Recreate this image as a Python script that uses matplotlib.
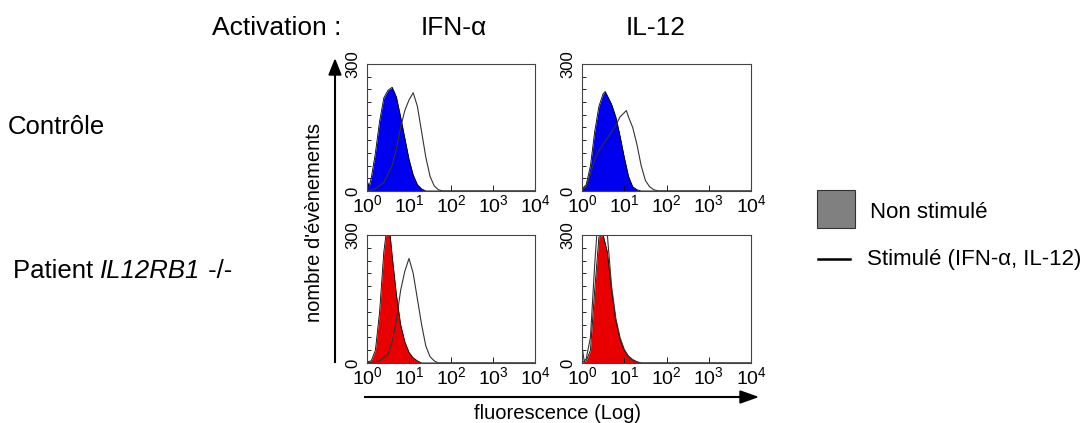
import numpy as np
import matplotlib.pyplot as plt
from matplotlib.patches import Rectangle
from matplotlib.lines import Line2D

plt.rcParams["font.family"] = ["Liberation Sans", "DejaVu Sans"]
plt.rcParams["mathtext.fontset"] = "custom"
plt.rcParams["mathtext.rm"] = "Liberation Sans"
plt.rcParams["mathtext.it"] = "Liberation Sans:italic"

# DATA (log10 fluorescence, cell counts)
ctrl_ifn_fill_x = [0.0, 0.05, 0.1, 0.2, 0.3, 0.4, 0.5, 0.6, 0.7, 0.8, 0.9, 1.0, 1.1, 1.2, 1.3, 1.4, 4.0]
ctrl_ifn_fill_y = [25, 10, 30, 90, 165, 220, 238, 245, 222, 175, 125, 75, 38, 15, 5, 0, 0]
ctrl_ifn_line_x = [0.0, 0.2, 0.4, 0.6, 0.7, 0.8, 0.9, 1.0, 1.1, 1.2, 1.3, 1.4, 1.5, 1.6, 1.7, 1.8, 4.0]
ctrl_ifn_line_y = [0, 5, 20, 60, 100, 150, 190, 215, 232, 200, 140, 80, 35, 12, 3, 0, 0]

ctrl_il12_fill_x = [0.0, 0.1, 0.2, 0.3, 0.4, 0.5, 0.55, 0.6, 0.7, 0.8, 0.9, 1.0, 1.1, 1.2, 1.3, 1.4, 4.0]
ctrl_il12_fill_y = [5, 15, 60, 140, 200, 230, 235, 225, 205, 175, 130, 80, 35, 10, 3, 0, 0]
ctrl_il12_line_x = [0.0, 0.1, 0.2, 0.3, 0.4, 0.5, 0.6, 0.7, 0.8, 0.9, 1.0, 1.05, 1.1, 1.2, 1.3, 1.4, 1.5, 1.6, 1.7, 1.8, 4.0]
ctrl_il12_line_y = [3, 10, 40, 75, 95, 110, 125, 140, 155, 175, 185, 190, 175, 150, 110, 60, 25, 10, 3, 0, 0]

pat_ifn_fill_x = [0.0, 0.1, 0.2, 0.3, 0.4, 0.45, 0.55, 0.6, 0.7, 0.8, 0.9, 1.0, 1.1, 1.2, 1.3, 4.0]
pat_ifn_fill_y = [3, 5, 30, 120, 260, 300, 300, 250, 160, 90, 50, 25, 12, 5, 0, 0]
pat_ifn_line_x = [0.0, 0.3, 0.5, 0.6, 0.7, 0.8, 0.9, 1.0, 1.1, 1.2, 1.3, 1.4, 1.5, 1.6, 1.7, 4.0]
pat_ifn_line_y = [0, 5, 20, 50, 100, 170, 215, 245, 210, 150, 90, 40, 15, 5, 0, 0]

pat_il12_fill_x = [0.0, 0.1, 0.2, 0.3, 0.4, 0.5, 0.6, 0.7, 0.8, 0.9, 1.0, 1.1, 1.2, 1.3, 1.4, 4.0]
pat_il12_fill_y = [2, 5, 30, 170, 295, 300, 260, 170, 100, 55, 30, 15, 7, 2, 0, 0]
pat_il12_line_x = [0.0, 0.05, 0.1, 0.2, 0.3, 0.35, 0.6, 0.7, 0.8, 0.9, 1.0, 1.1, 1.2, 1.3, 1.4, 4.0]
pat_il12_line_y = [40, 5, 10, 60, 230, 300, 300, 180, 105, 60, 32, 16, 8, 3, 0, 0]

row_labels = ["Contrôle", "Patient"]
col_labels = ["IFN-\u03b1", "IL-12"]
decades = [0, 1, 2, 3, 4]

panels = [
    (ctrl_ifn_fill_x, ctrl_ifn_fill_y, ctrl_ifn_line_x, ctrl_ifn_line_y, "#0000f0"),
    (ctrl_il12_fill_x, ctrl_il12_fill_y, ctrl_il12_line_x, ctrl_il12_line_y, "#0000f0"),
    (pat_ifn_fill_x, pat_ifn_fill_y, pat_ifn_line_x, pat_ifn_line_y, "#e80000"),
    (pat_il12_fill_x, pat_il12_fill_y, pat_il12_line_x, pat_il12_line_y, "#e80000"),
]

W, H = 1087, 423
fig = plt.figure(figsize=(W / 100, H / 100), dpi=100)

def px_axes(x0, y0, x1, y1):
    return fig.add_axes([x0 / W, 1 - y1 / H, (x1 - x0) / W, (y1 - y0) / H])

boxes = [(367, 64, 535, 191), (582, 64, 751, 191), (367, 235, 535, 363), (582, 235, 751, 363)]

for (fx, fy, lx, ly, col), box in zip(panels, boxes):
    ax = px_axes(*box)
    fxx = 10 ** np.array(fx)
    lxx = 10 ** np.array(lx)
    ax.fill_between(fxx, 0, fy, color=col, lw=0)
    ax.plot(fxx, fy, color="black", lw=0.6)
    ax.plot(lxx, ly, color="#333333", lw=0.8)
    ax.set_xscale("log")
    ax.set_xlim(1, 1e4)
    ax.set_ylim(0, 300)
    ax.set_xticks([10 ** d for d in decades])
    ax.set_xticklabels([f"$\\mathrm{{10}}^{{\\mathrm{{{d}}}}}$" for d in decades], fontsize=14)
    ax.set_yticks([0, 300])
    ax.set_yticklabels(["0", "300"], rotation=90, va="center", fontsize=12)
    ax.set_yticks(np.arange(0, 301, 30), minor=True)
    ax.tick_params(axis="both", which="both", direction="in", length=3, width=0.6, pad=2)
    ax.tick_params(axis="y", which="major", length=0, pad=5)
    ax.tick_params(axis="x", which="major", length=4, pad=2)
    for s in ax.spines.values():
        s.set_linewidth(0.8)
        s.set_color("#444444")

# big arrows
fig.add_artist(Line2D([335 / W, 335 / W], [1 - 362 / H, 1 - 75 / H], color="black", lw=1.5))
fig.patches.append(plt.Polygon([[329 / W, 1 - 75 / H], [341 / W, 1 - 75 / H], [335 / W, 1 - 60 / H]],
                               closed=True, color="black", transform=fig.transFigure))
fig.add_artist(Line2D([365 / W, 740 / W], [1 - 397 / H, 1 - 397 / H], color="black", lw=1.5))
fig.patches.append(plt.Polygon([[740 / W, 1 - 391 / H], [740 / W, 1 - 403 / H], [757 / W, 1 - 397 / H]],
                               closed=True, color="black", transform=fig.transFigure))

fig.text(314 / W, 1 - 222 / H, "nombre d'évènements", rotation=90, ha="center", va="center", fontsize=14.5)
fig.text(557 / W, 1 - 413 / H, "fluorescence (Log)", ha="center", va="center", fontsize=14.5)

# headers
fig.text(277 / W, 1 - 28 / H, "Activation :", ha="center", va="center", fontsize=19)
fig.text(454 / W, 1 - 28 / H, col_labels[0], ha="center", va="center", fontsize=19)
fig.text(656 / W, 1 - 28 / H, col_labels[1], ha="center", va="center", fontsize=19)

fig.text(8 / W, 1 - 127 / H, row_labels[0], ha="left", va="center", fontsize=18.5)

# patient label in three pieces so the gene name is italic
renderer = fig.canvas.get_renderer()
x_px = 13
for piece, style in [(row_labels[1] + " ", "normal"), ("IL12RB1", "italic"), (" -/-", "normal")]:
    t = fig.text(x_px / W, 1 - 278 / H, piece, ha="left", va="baseline", fontsize=18.5, fontstyle=style)
    x_px += t.get_window_extent(renderer).width

# legend
fig.patches.append(Rectangle((817 / W, 1 - 228 / H), 38 / W, 38 / H, facecolor="#808080",
                             edgecolor="#333333", lw=0.8, transform=fig.transFigure))
fig.text(870 / W, 1 - 212 / H, "Non stimulé", ha="left", va="center", fontsize=16)
fig.add_artist(Line2D([818 / W, 850 / W], [1 - 259 / H, 1 - 259 / H], color="black", lw=1.8))
fig.text(867 / W, 1 - 259 / H, "Stimulé (IFN-\u03b1, IL-12)", ha="left", va="center", fontsize=16)

fig.savefig("out.png", dpi=100)
